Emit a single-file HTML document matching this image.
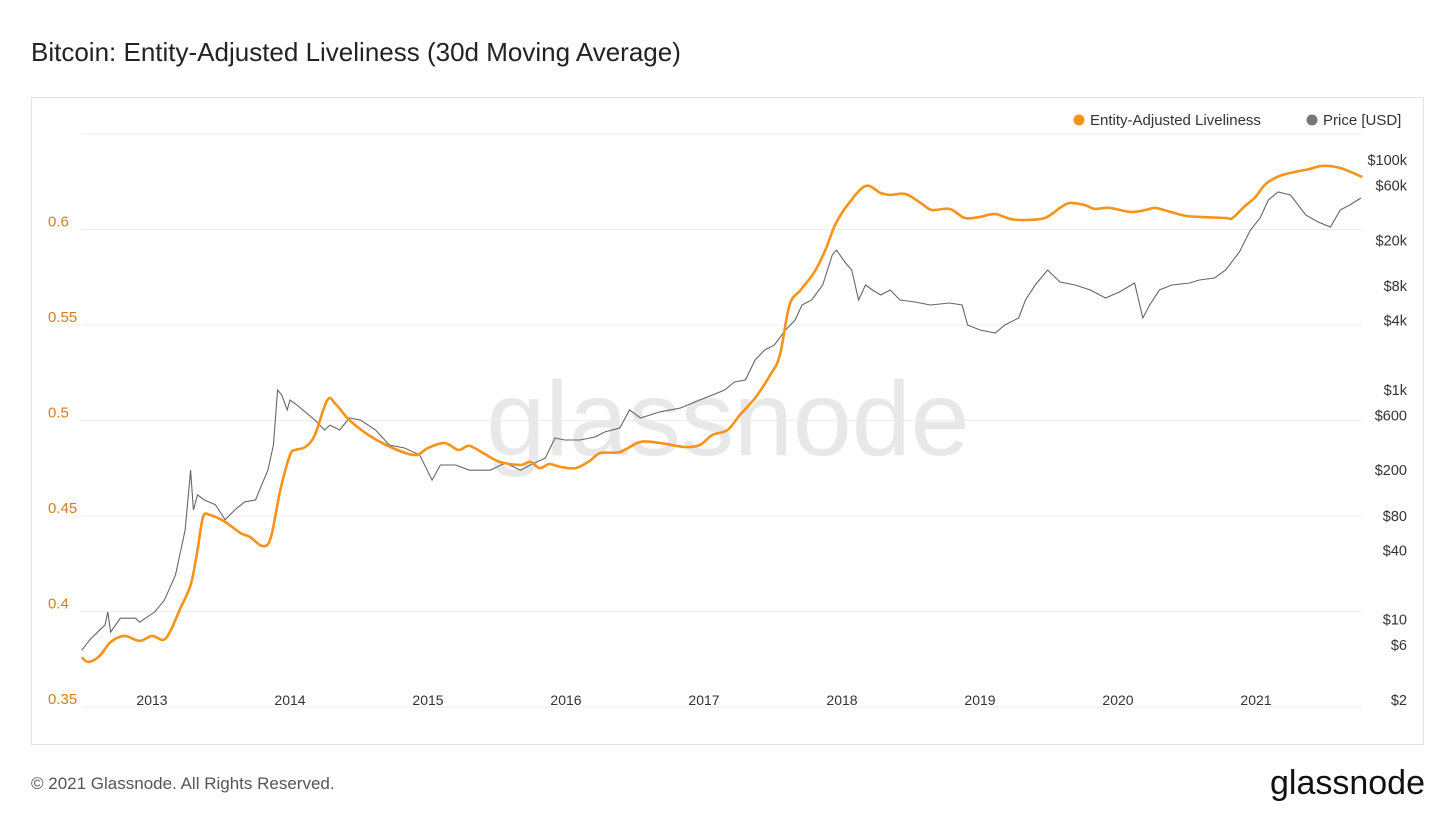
<!DOCTYPE html>
<html><head><meta charset="utf-8"><style>
body{margin:0;background:#fff;font-family:"Liberation Sans",sans-serif;}
</style></head><body>
<svg width="1456" height="819" viewBox="0 0 1456 819" xmlns="http://www.w3.org/2000/svg" font-family="Liberation Sans, sans-serif">
<text x="31" y="61" font-size="26" fill="#222">Bitcoin: Entity-Adjusted Liveliness (30d Moving Average)</text>
<rect x="31.5" y="97.5" width="1392" height="647" fill="none" stroke="#e2e2e2"/>
<text x="728" y="455" text-anchor="middle" font-size="106" fill="#e8e8e8">glassnode</text>
<g id="grid"></g>
<g id="yl"></g>
<g id="yr"></g>
<g id="xa"></g>
<path id="price" fill="none" stroke="#666" stroke-width="1.1"/>
<path id="live" fill="none" stroke="#f7931a" stroke-width="2.6" stroke-linejoin="round"/>
<g>
<circle cx="1079" cy="120" r="5.5" fill="#f7931a"/>
<text x="1090" y="125" font-size="15" fill="#333">Entity-Adjusted Liveliness</text>
<circle cx="1312" cy="120" r="5.5" fill="#777"/>
<text x="1323" y="125" font-size="15" fill="#333">Price [USD]</text>
</g>
<text x="31" y="789" font-size="17" fill="#555">© 2021 Glassnode. All Rights Reserved.</text>
<text x="1425" y="794" text-anchor="end" font-size="34" fill="#111">glassnode</text>
</svg>
<script>
const liveDates=[2012.49,2012.54,2012.62,2012.70,2012.80,2012.91,2013.00,2013.08,2013.13,2013.20,2013.28,2013.33,2013.37,2013.42,2013.53,2013.64,2013.71,2013.80,2013.86,2013.93,2014.00,2014.04,2014.11,2014.18,2014.27,2014.33,2014.43,2014.58,2014.76,2014.91,2015.00,2015.12,2015.22,2015.30,2015.41,2015.52,2015.67,2015.74,2015.81,2015.88,2015.96,2016.07,2016.17,2016.25,2016.39,2016.54,2016.68,2016.86,2016.97,2017.06,2017.17,2017.26,2017.37,2017.48,2017.55,2017.62,2017.70,2017.80,2017.88,2017.95,2018.04,2018.17,2018.28,2018.35,2018.46,2018.57,2018.65,2018.78,2018.89,2019.00,2019.11,2019.22,2019.33,2019.47,2019.58,2019.65,2019.76,2019.83,2019.94,2020.09,2020.20,2020.27,2020.38,2020.49,2020.59,2020.78,2020.83,2020.92,2020.99,2021.07,2021.17,2021.28,2021.39,2021.48,2021.61,2021.77];
const liveValues=[.376,.3736,.3767,.384,.3872,.3846,.3872,.3851,.3893,.4008,.4139,.4322,.4495,.4505,.4469,.4411,.439,.4343,.4385,.4636,.4819,.4846,.4861,.4924,.5107,.5087,.5003,.4919,.4851,.4819,.4856,.4882,.4846,.4867,.4825,.4783,.4767,.4783,.4751,.4772,.4757,.4751,.4788,.483,.4835,.4888,.4882,.4861,.4872,.4924,.495,.5029,.5118,.5238,.5343,.5605,.5683,.5778,.5893,.6024,.6128,.6228,.6191,.6181,.6186,.6139,.6102,.6108,.606,.6066,.6081,.6055,.605,.606,.6113,.6139,.6128,.6108,.6113,.6092,.6102,.6113,.6092,.6071,.6066,.606,.606,.6123,.6165,.6238,.628,.6301,.6317,.6333,.6322,.6275];
const priceDates=[2012.49,2012.55,2012.62,2012.66,2012.68,2012.70,2012.77,2012.88,2012.91,2013.02,2013.09,2013.17,2013.24,2013.28,2013.30,2013.33,2013.38,2013.46,2013.53,2013.60,2013.67,2013.75,2013.78,2013.84,2013.88,2013.91,2013.94,2013.98,2014.00,2014.05,2014.11,2014.18,2014.25,2014.29,2014.36,2014.43,2014.51,2014.62,2014.72,2014.83,2014.94,2015.03,2015.09,2015.20,2015.30,2015.45,2015.56,2015.67,2015.74,2015.85,2015.92,2015.99,2016.10,2016.21,2016.28,2016.39,2016.46,2016.54,2016.68,2016.83,2016.97,2017.06,2017.15,2017.22,2017.30,2017.37,2017.44,2017.51,2017.59,2017.66,2017.71,2017.78,2017.86,2017.93,2017.96,2018.02,2018.07,2018.12,2018.17,2018.22,2018.28,2018.35,2018.42,2018.53,2018.64,2018.78,2018.87,2018.91,2019.00,2019.11,2019.18,2019.28,2019.33,2019.40,2019.49,2019.58,2019.69,2019.80,2019.91,2020.01,2020.12,2020.18,2020.23,2020.30,2020.39,2020.52,2020.59,2020.70,2020.78,2020.88,2020.96,2021.03,2021.09,2021.16,2021.25,2021.36,2021.45,2021.54,2021.61,2021.68,2021.76];
const priceValues=[5.4,6.7,8.1,9.0,11.7,7.8,10.3,10.3,9.5,11.7,14.8,24.5,60,200,90,122,110,100,74,90,106,110,135,200,331,998,902,668,817,738,643,547,448,494,448,569,547,448,331,312,271,164,222,222,200,200,231,200,222,255,381,366,366,389,430,466,668,569,643,695,817,902,998,1172,1220,1822,2224,2460,3320,4056,5480,6060,8180,14930,16480,12980,11050,6060,8180,7400,6700,7400,6060,5820,5480,5700,5480,3672,3320,3126,3672,4226,6060,8180,11050,8690,8180,7400,6310,7112,8512,4226,5480,7400,8180,8512,9040,9420,11050,15850,24660,31340,44980,52740,49660,33280,28900,26180,36800,40640,46780];
const leftTicks=[0.35,0.4,0.45,0.5,0.55,0.6,0.65];
const leftLabels=["0.35","0.4","0.45","0.5","0.55","0.6",""];
const rightTicks=[2,6,10,40,80,200,600,1000,4000,8000,20000,60000,100000];
const rightLabels=["$2","$6","$10","$40","$80","$200","$600","$1k","$4k","$8k","$20k","$60k","$100k"];
const xTicks=[2013,2014,2015,2016,2017,2018,2019,2020,2021];

const NS="http://www.w3.org/2000/svg";
const X=t=>152+(t-2013)*138;
const YL=v=>707-(v-0.35)/0.05*95.5;
const YR=p=>700-Math.log10(p/2)*114.9;
function mk(tag,attrs,parent,txt){const e=document.createElementNS(NS,tag);for(const k in attrs)e.setAttribute(k,attrs[k]);if(txt!==undefined)e.textContent=txt;parent.appendChild(e);return e;}
const grid=document.getElementById('grid'),yl=document.getElementById('yl'),yr=document.getElementById('yr'),xa=document.getElementById('xa');
leftTicks.forEach((v,i)=>{
  const y=YL(v);
  const l=mk('line',{x1:81,x2:1362,y1:y,y2:y,stroke:'#ececec','stroke-width':1},grid);
  
  
  if(leftLabels[i]){
    const t=mk('text',{x:48,y:y-3,'font-size':15,fill:'#d07f1c'},yl,leftLabels[i]);
    
    
  }
});
rightTicks.forEach((p,i)=>{
  const t=mk('text',{x:1407,y:YR(p)+5,'font-size':14.5,fill:'#333','text-anchor':'end'},yr,rightLabels[i]);
  
  
});
xTicks.forEach(yv=>{
  const t=mk('text',{x:X(yv),y:705,'font-size':14,fill:'#333','text-anchor':'middle'},xa,String(yv));
  
  
});
function smooth(pts){let d='M'+pts[0][0].toFixed(1)+','+pts[0][1].toFixed(1);
  for(let i=0;i<pts.length-1;i++){const p0=pts[Math.max(0,i-1)],p1=pts[i],p2=pts[i+1],p3=pts[Math.min(pts.length-1,i+2)];
    const c1=[p1[0]+(p2[0]-p0[0])/6,p1[1]+(p2[1]-p0[1])/6],c2=[p2[0]-(p3[0]-p1[0])/6,p2[1]-(p3[1]-p1[1])/6];
    d+=' C'+c1[0].toFixed(1)+','+c1[1].toFixed(1)+' '+c2[0].toFixed(1)+','+c2[1].toFixed(1)+' '+p2[0].toFixed(1)+','+p2[1].toFixed(1);}
  return d;}
document.getElementById('live').setAttribute('d',smooth(liveDates.map((t,i)=>[X(t),YL(liveValues[i])])));
document.getElementById('price').setAttribute('d','M'+priceDates.map((t,i)=>X(t).toFixed(1)+','+YR(priceValues[i]).toFixed(1)).join(' L'));
</script>
</body></html>
